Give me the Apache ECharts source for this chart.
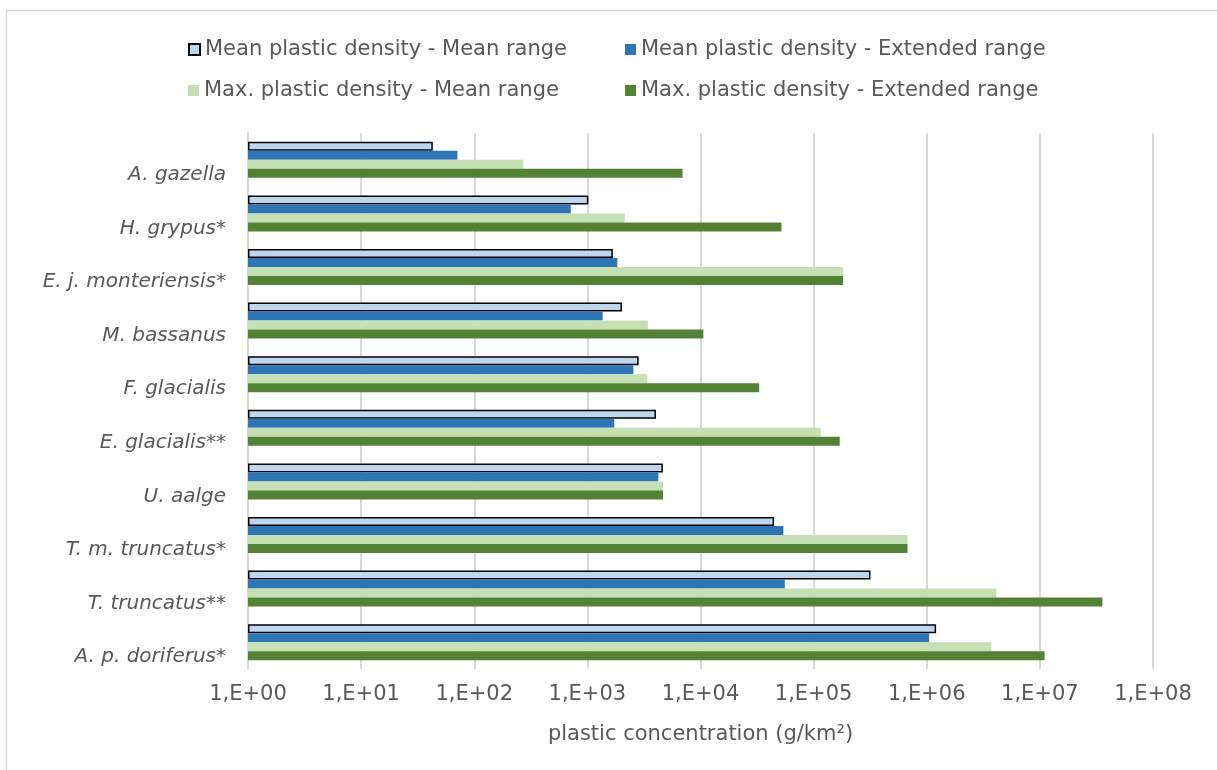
<!DOCTYPE html>
<html>
<head>
<meta charset="utf-8">
<script src="https://cdn.jsdelivr.net/npm/echarts@6/dist/echarts.min.js"></script>
<style>
  html, body { margin: 0; padding: 0; background: #fff; }
  #chart { width: 1217px; height: 770px; }
</style>
</head>
<body>
<div id="chart"></div>
<script>
// species, top to bottom
var species = ['A. gazella', 'H. grypus*', 'E. j. monteriensis*', 'M. bassanus', 'F. glacialis',
  'E. glacialis**', 'U. aalge', 'T. m. truncatus*', 'T. truncatus**', 'A. p. doriferus*']

// plastic concentration (g/km2)
var meanMeanRange = [43, 1020, 1680, 2020, 2840, 4040, 4650, 44700, 318000, 1210000]
var meanExtRange = [71, 713, 1840, 1365, 2550, 1730, 4240, 54000, 55600, 1050000]
var maxMeanRange = [272, 2140, 182000, 3430, 3400, 115600, 4660, 676000, 4120000, 3730000]
var maxExtRange = [6940, 52000, 182000, 10600, 33000, 170000, 4660, 676000, 35700000, 11000000]

var seriesNames = [
  'Mean plastic density - Mean range',
  'Mean plastic density - Extended range',
  'Max. plastic density - Mean range',
  'Max. plastic density - Extended range'
]

var textColor = '#595959'
var font = 'DejaVu Sans'

var chart = echarts.init(document.getElementById('chart'))

function legendAt(name, left, top) {
  return {
    data: [name],
    left: left,
    top: top,
    padding: 0,
    icon: 'rect',
    itemWidth: 11,
    itemHeight: 11,
    itemGap: 0,
    selectedMode: false,
    textStyle: { color: textColor, fontSize: 21, fontFamily: font }
  }
}

function barSeries(name, data, color, extra) {
  var s = {
    name: name,
    type: 'bar',
    data: data,
    barWidth: 9,
    barGap: '0%',
    barCategoryGap: '32%',
    itemStyle: { color: color },
    animation: false
  }
  return Object.assign(s, extra || {})
}

chart.setOption({
  textStyle: { fontFamily: font },
  graphic: [
    {
      type: 'polyline',
      shape: { points: [[6.5, 770], [6.5, 10.5], [1217, 10.5]] },
      style: { stroke: '#d9d9d9', lineWidth: 1.5, fill: null },
      silent: true
    }
  ],
  legend: [
    legendAt(seriesNames[0], 188, 39),
    legendAt(seriesNames[1], 625, 39),
    legendAt(seriesNames[2], 188, 80),
    legendAt(seriesNames[3], 625, 80)
  ],
  grid: {
    left: 248,
    right: 64,
    top: 133,
    bottom: 101,
    containLabel: false
  },
  xAxis: {
    type: 'log',
    logBase: 10,
    min: 1,
    max: 100000000,
    name: 'plastic concentration (g/km²)',
    nameLocation: 'middle',
    nameGap: 55,
    nameTextStyle: { color: textColor, fontSize: 21, fontFamily: font },
    axisLine: { show: false },
    axisTick: { show: false },
    splitLine: { show: true, lineStyle: { color: '#d9d9d9', width: 2 } },
    axisLabel: {
      color: textColor,
      fontSize: 21,
      fontFamily: font,
      margin: 15,
      formatter: function (v) {
        var e = Math.round(Math.log10(v))
        return '1,E+' + (e < 10 ? '0' + e : e)
      }
    }
  },
  yAxis: {
    type: 'category',
    data: species,
    inverse: true,
    axisLine: { show: true, lineStyle: { color: '#d9d9d9', width: 2 } },
    axisTick: { show: false },
    axisLabel: {
      color: textColor,
      fontSize: 20,
      fontFamily: font,
      fontStyle: 'italic',
      margin: 22,
      verticalAlign: 'top',
      lineHeight: 30
    }
  },
  series: [
    barSeries(seriesNames[0], meanMeanRange, '#bdd7ee', {
      itemStyle: { color: '#bdd7ee', borderColor: '#000', borderWidth: 1.5 }
    }),
    barSeries(seriesNames[1], meanExtRange, '#2e75b6'),
    barSeries(seriesNames[2], maxMeanRange, '#c5e0b4'),
    barSeries(seriesNames[3], maxExtRange, '#548235')
  ]
})
</script>
</body>
</html>
